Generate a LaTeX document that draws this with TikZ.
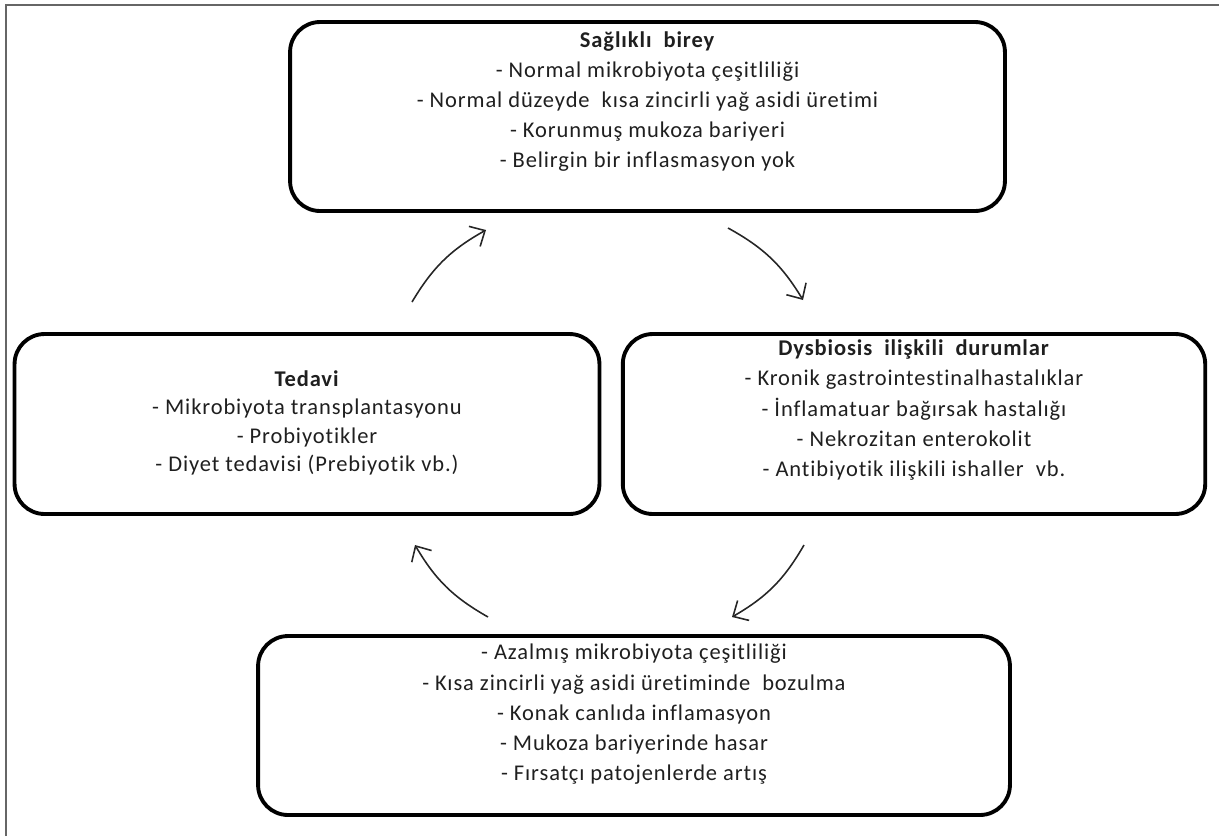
\documentclass[tikz,border=0pt]{standalone}
\usepackage{fontspec}
\setmainfont{Carlito}[LetterSpace=4,Ligatures=NoCommon]
\usetikzlibrary{positioning,arrows.meta}

\begin{document}
\begin{tikzpicture}[
  x=0.02cm, y=-0.02cm,
  font=\fontsize{12.8}{17.2}\selectfont,
  box/.style={
    draw,
    line width=2.2pt,
    rounded corners=0.6cm,
    inner sep=0pt
  },
  txt/.style={align=center, text=black!88},
  arrow/.style={-{Straight Barb[length=2.4mm,width=4.6mm]}, line width=0.9pt, black!85},
  frame/.style={draw=black!60, line width=1.2pt}
]
\useasboundingbox (0,0) rectangle (1219,836);
\draw[frame] (6,836) -- (6,5) -- (1219,5);

\node[box, minimum width=14.3cm, minimum height=3.78cm] (saglikli) at (647.5,116.5) {};
\node[txt] (sagliklitxt) at ([yshift=0.3cm]saglikli.center) {\textbf{Sağlıklı\ \ birey}\\- Normal mikrobiyota çeşitliliği\\- Normal düzeyde\ \ kısa zincirli yağ asidi üretimi\\- Korunmuş mukoza bariyeri\\- Belirgin bir inflasmasyon yok};

\node[box, minimum width=11.65cm, minimum height=3.6cm] (dysbiosis) at (914,424) {};
\node[txt] (dysbiosistxt) at ([yshift=0.28cm]dysbiosis.center) {\textbf{Dysbiosis\ \ ilişkili\ \ durumlar}\\- Kronik gastrointestinalhastalıklar\\- İnflamatuar bağırsak hastalığı\\- Nekrozitan enterokolit\\- Antibiyotik ilişkili ishaller\ \ vb.};

\node[box, minimum width=15.04cm, minimum height=3.58cm] (bozulma) at (634,725.5) {};
\node[txt] (bozulmatxt) at ([yshift=0.22cm]bozulma.center) {- Azalmış mikrobiyota çeşitliliği\\- Kısa zincirli yağ asidi üretiminde\ \ bozulma\\- Konak canlıda inflamasyon\\- Mukoza bariyerinde hasar\\- Fırsatçı patojenlerde artış};

\node[box, minimum width=11.7cm, minimum height=3.6cm] (tedavi) at (307,424) {};
\node[txt, font=\fontsize{12.8}{16.2}\selectfont] (tedavitxt) at ([yshift=0.02cm]tedavi.center) {\textbf{Tedavi}\\- Mikrobiyota transplantasyonu\\- Probiyotikler\\- Diyet tedavisi (Prebiyotik vb.)};

\coordinate (fromtedavi) at (412,302);
\coordinate (tosaglikli) at (486,230);
\coordinate (fromsaglikli) at (728,228);
\coordinate (todysbiosis) at (803,300);
\coordinate (fromdysbiosis) at (804,545);
\coordinate (tobozulma) at (732,617);
\coordinate (frombozulma) at (488,617);
\coordinate (totedavi) at (415,545);

\draw[arrow] (fromtedavi) to[bend left=15] (tosaglikli);
\draw[arrow] (fromsaglikli) to[bend left=15] (todysbiosis);
\draw[arrow] (fromdysbiosis) to[bend left=15] (tobozulma);
\draw[arrow] (frombozulma) to[bend left=15] (totedavi);

\end{tikzpicture}
\end{document}
